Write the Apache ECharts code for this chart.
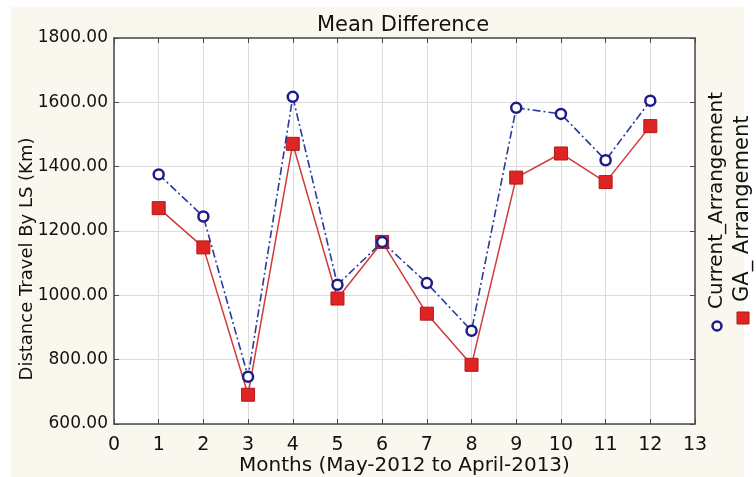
<!DOCTYPE html>
<html>
<head>
<meta charset="utf-8">
<script src="https://cdn.jsdelivr.net/npm/echarts@6/dist/echarts.min.js"></script>
<style>html,body{margin:0;padding:0;background:#fff;}#c{width:756px;height:477px;}</style>
</head>
<body>
<div id="c"></div>
<script>
var months = [1,2,3,4,5,6,7,8,9,10,11,12];
var currentArrangement = [1376,1245,747,1617,1033,1166,1038,890,1583,1564,1420,1605];
var gaArrangement = [1271,1149,691,1471,990,1166,943,784,1366,1441,1352,1526];
var yTicks = [600,800,1000,1200,1400,1600,1800];
var xTicks = [0,1,2,3,4,5,6,7,8,9,10,11,12,13];

function pairs(xs, ys){ return xs.map(function(x,i){ return [x, ys[i]]; }); }

var chart = echarts.init(document.getElementById('c'));
var font = '"DejaVu Sans", "Liberation Sans", Arial, sans-serif';
var axisCol = '#4a4a4a';
chart.setOption({
  backgroundColor: '#ffffff',
  animation: false,
  graphic: [
    {type:'rect', z:-10, silent:true, shape:{x:11,y:7,width:733,height:470}, style:{fill:'#faf8ee'}},
    {type:'text', x:717, y:309, rotation:Math.PI/2, style:{text:'Current_Arrangement', fontSize:20, fontFamily:font, fill:'#111', align:'left', verticalAlign:'middle'}},
    {type:'text', x:743, y:302, rotation:Math.PI/2, style:{text:'GA_ Arrangement', fontSize:21, fontFamily:font, fill:'#111', align:'left', verticalAlign:'middle'}},
    {type:'circle', shape:{cx:717, cy:326, r:4.5}, style:{fill:'none', stroke:'#1c1c8a', lineWidth:2.5}},
    {type:'rect', shape:{x:737, y:312, width:12, height:12}, style:{fill:'#e02424', stroke:'#b01818', lineWidth:1}}
  ],
  title: {
    text: 'Mean Difference', left: 398, top: 10, textAlign: 'center',
    textStyle: {fontSize: 21, fontWeight: 'normal', color: '#111', fontFamily: font}
  },
  grid: {left:114, right:61, top:38, bottom:53, show:true, backgroundColor:'#ffffff', borderWidth:0, containLabel:false, outerBoundsMode:'none'},
  xAxis: [{
    type:'value', min:0, max:13, interval:1, position:'bottom',
    name:'Months (May-2012 to April-2013)', nameLocation:'middle', nameGap:32, nameMoveOverlap:false,
    nameTextStyle:{fontSize:20, color:'#111', fontFamily:font},
    axisLine:{show:true, onZero:false, lineStyle:{color:axisCol, width:1.5}},
    axisTick:{show:true, inside:true, length:5, lineStyle:{color:axisCol}},
    axisLabel:{fontSize:19, color:'#111', fontFamily:font, margin:12, showMinLabel:true, showMaxLabel:true},
    splitLine:{show:true, lineStyle:{color:'#dcdcdc', width:1}}
  },{
    type:'value', min:0, max:13, interval:1, position:'top',
    axisLine:{show:true, onZero:false, lineStyle:{color:axisCol, width:1.5}},
    axisTick:{show:true, inside:true, length:5, lineStyle:{color:axisCol}},
    axisLabel:{show:false}, splitLine:{show:false}
  }],
  yAxis: [{
    type:'value', min:600, max:1800, interval:200, position:'left',
    name:'Distance Travel By LS (Km)', nameLocation:'middle', nameGap:78, nameMoveOverlap:false,
    nameTextStyle:{fontSize:18, color:'#111', fontFamily:font, padding:[0,56,0,0]},
    axisLine:{show:true, onZero:false, lineStyle:{color:axisCol, width:1.5}},
    axisTick:{show:true, inside:true, length:5, lineStyle:{color:axisCol}},
    axisLabel:{fontSize:17, color:'#111', fontFamily:font, margin:6, formatter:function(v){return v.toFixed(2);}},
    splitLine:{show:true, lineStyle:{color:'#dcdcdc', width:1}}
  },{
    type:'value', min:600, max:1800, interval:200, position:'right',
    axisLine:{show:true, onZero:false, lineStyle:{color:axisCol, width:1.5}},
    axisTick:{show:true, inside:true, length:5, lineStyle:{color:axisCol}},
    axisLabel:{show:false}, splitLine:{show:false}
  }],
  series: [{
    name:'GA_ Arrangement', type:'line', xAxisIndex:0, yAxisIndex:0,
    data: pairs(months, gaArrangement),
    symbol:'rect', symbolSize:13, z:2,
    lineStyle:{color:'#d03a3a', width:1.5, type:'solid'},
    itemStyle:{color:'#e02424', borderColor:'#b01818', borderWidth:1}
  },{
    name:'Current_Arrangement', type:'line', xAxisIndex:0, yAxisIndex:0,
    data: pairs(months, currentArrangement),
    symbol:'circle', symbolSize:10, z:3,
    lineStyle:{color:'#2a3a9c', width:1.6, type:[8,3,2,3]},
    itemStyle:{color:'#ffffff', borderColor:'#1c1c8a', borderWidth:2.5}
  }]
});
</script>
</body>
</html>
